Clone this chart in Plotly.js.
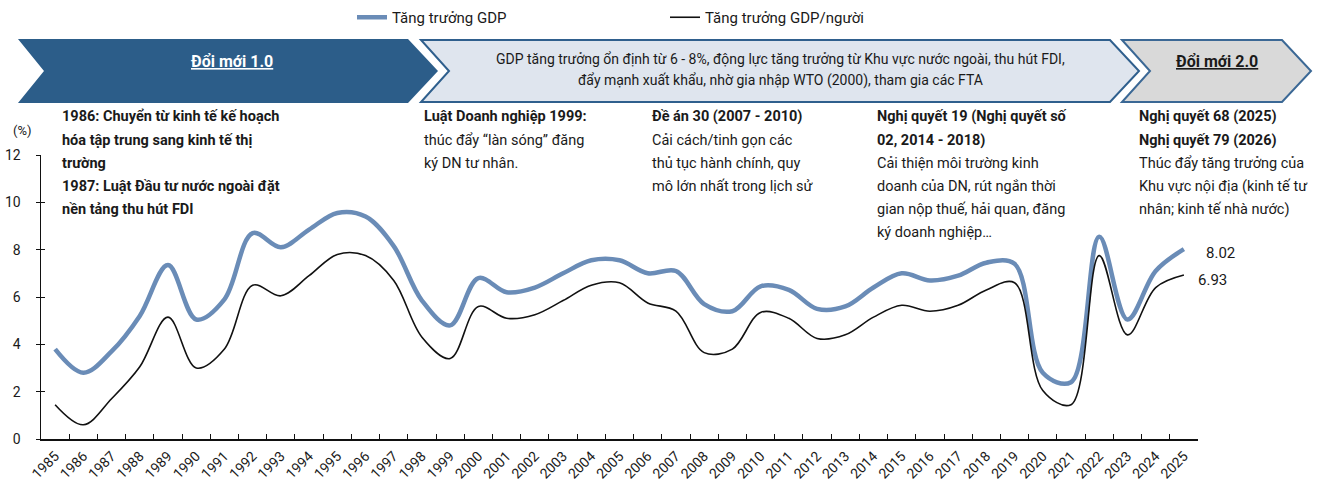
<!DOCTYPE html>
<html>
<head>
<meta charset="utf-8">
<script src="https://cdn.plot.ly/plotly-3.0.1.min.js"></script>
<style>html,body{margin:0;padding:0;background:#fff;}#chart{width:1322px;height:486px;}</style>
</head>
<body>
<div id="chart"></div>
<script>
// ---- data ----
const years = ["1985","1986","1987","1988","1989","1990","1991","1992","1993","1994","1995","1996","1997","1998","1999","2000","2001","2002","2003","2004","2005","2006","2007","2008","2009","2010","2011","2012","2013","2014","2015","2016","2017","2018","2019","2020","2021","2022","2023","2024","2025"];
const gdpGrowth = [3.8, 2.8, 3.7, 5.2, 7.35, 5.05, 5.9, 8.7, 8.1, 8.85, 9.55, 9.4, 8.15, 5.85, 4.8, 6.8, 6.2, 6.4, 7.0, 7.55, 7.55, 7.0, 7.1, 5.7, 5.4, 6.45, 6.3, 5.5, 5.6, 6.4, 7.0, 6.7, 6.9, 7.45, 7.4, 2.8, 2.4, 8.55, 5.05, 7.1, 8.02];
const gdpPerCapita = [1.45, 0.6, 1.7, 3.05, 5.15, 3.0, 3.8, 6.5, 6.05, 6.9, 7.8, 7.75, 6.7, 4.3, 3.4, 5.6, 5.1, 5.25, 5.85, 6.5, 6.6, 5.75, 5.4, 3.65, 3.8, 5.35, 5.1, 4.25, 4.4, 5.15, 5.65, 5.4, 5.65, 6.3, 6.6, 2.05, 1.45, 7.75, 4.4, 6.4, 6.93];
const seriesNames = ["Tăng trưởng GDP", "Tăng trưởng GDP/người"];
const yTicks = [0, 2, 4, 6, 8, 10, 12];

const bannerTexts = [
  "<b><u>Đổi mới 1.0</u></b>",
  "GDP tăng trưởng ổn định từ 6 - 8%, động lực tăng trưởng từ Khu vực nước ngoài, thu hút FDI,",
  "đẩy mạnh xuất khẩu, nhờ gia nhập WTO (2000), tham gia các FTA",
  "<b><u>Đổi mới 2.0</u></b>"
];
const notes = [
  {x: 60, lines: [["1986: Chuyển từ kinh tế kế hoạch",1],["hóa tập trung sang kinh tế thị",1],["trường",1],["1987: Luật Đầu tư nước ngoài đặt",1],["nền tảng thu hút FDI",1]]},
  {x: 422, lines: [["Luật Doanh nghiệp 1999:",1],["thúc đẩy “làn sóng” đăng",0],["ký DN tư nhân.",0]]},
  {x: 650, lines: [["Đề án 30 (2007 - 2010)",1],["Cải cách/tinh gọn các",0],["thủ tục hành chính, quy",0],["mô lớn nhất trong lịch sử",0]]},
  {x: 875, lines: [["Nghị quyết 19 (Nghị quyết số",1],["02, 2014 - 2018)",1],["Cải thiện môi trường kinh",0],["doanh của DN, rút ngắn thời",0],["gian nộp thuế, hải quan, đăng",0],["ký doanh nghiệp…",0]]},
  {x: 1137, lines: [["Nghị quyết 68 (2025)",1],["Nghị quyết 79 (2026)",1],["Thúc đẩy tăng trưởng của",0],["Khu vực nội địa (kinh tế tư",0],["nhân; kinh tế nhà nước)",0]]}
];

// ---- geometry helpers (pixel -> paper) ----
const L = 41, T = 155, W = 1157, H = 284;
const px = x => (x - L) / W;
const py = y => (T + H - y) / H;
function poly(pts){ return pts.map((p,i)=>(i?'L':'M')+px(p[0]).toFixed(5)+','+py(p[1]).toFixed(5)).join(' ')+' Z'; }

const FONT = 'Roboto, "Noto Sans", sans-serif';
const txt = '#1a1a1a';

const shapes = [
  {type:'path', xref:'paper', yref:'paper', path: poly([[18,39],[408,39],[438,71],[408,103],[18,103],[44,71]]), fillcolor:'#2c5d89', line:{width:0}},
  {type:'path', xref:'paper', yref:'paper', path: poly([[421,40],[1110,40],[1139,71],[1110,102],[421,102],[449,71]]), fillcolor:'#dfe5ee', line:{color:'#2f5f8d', width:2}},
  {type:'path', xref:'paper', yref:'paper', path: poly([[1122,40],[1282,40],[1311,71],[1282,102],[1122,102],[1150,71]]), fillcolor:'#d9d9d9', line:{color:'#3b6895', width:2}}
];

const annotations = [];
function addText(x, y, text, opts){
  annotations.push(Object.assign({xref:'paper', yref:'paper', x:px(x), y:py(y), text:text, showarrow:false,
    xanchor:'left', yanchor:'middle', font:{family:FONT, size:14, color:txt}}, opts||{}));
}
addText(232, 61, bannerTexts[0], {xanchor:'center', font:{family:FONT, size:16, color:'#ffffff'}});
addText(780, 59, bannerTexts[1], {xanchor:'center', font:{family:FONT, size:14, color:txt}});
addText(780, 81, bannerTexts[2], {xanchor:'center', font:{family:FONT, size:14, color:txt}});
addText(1217, 61, bannerTexts[3], {xanchor:'center', font:{family:FONT, size:16, color:txt}});
notes.forEach(n => n.lines.forEach((ln, i) => {
  addText(n.x, 117 + i*23, ln[1] ? '<b>'+ln[0]+'</b>' : ln[0], {font:{family:FONT, size:14.5, color:txt}});
}));
addText(22, 131, '(%)', {xanchor:'center', font:{family:FONT, size:13, color:txt}});
// end labels (x given as category index)
const last = years.length - 1;
annotations.push({xref:'x', yref:'y', x:last, y:gdpGrowth[last], text:gdpGrowth[last].toFixed(2), showarrow:false,
  xanchor:'left', yanchor:'middle', xshift:20, yshift:-4, font:{family:FONT, size:15, color:txt}});
annotations.push({xref:'x', yref:'y', x:last, y:gdpPerCapita[last], text:gdpPerCapita[last].toFixed(2), showarrow:false,
  xanchor:'left', yanchor:'middle', xshift:12, yshift:-5, font:{family:FONT, size:15, color:txt}});

const traces = [
  {x: years, y: gdpGrowth, name: seriesNames[0], type:'scatter', mode:'lines',
   line:{color:'#6a8cb7', width:4.5, shape:'spline', smoothing:1}, hoverinfo:'skip'},
  {x: years, y: gdpPerCapita, name: seriesNames[1], type:'scatter', mode:'lines',
   line:{color:'#111111', width:1.6, shape:'spline', smoothing:1}, hoverinfo:'skip'},
  {x: years, y: gdpGrowth, yaxis:'y2', type:'scatter', mode:'lines', showlegend:false,
   line:{width:0}, opacity:0, hoverinfo:'skip'}
];

const layout = {
  width:1322, height:486,
  margin:{l:L, r:1322-L-W, t:T, b:486-T-H, pad:0},
  paper_bgcolor:'#ffffff', plot_bgcolor:'#ffffff',
  font:{family:FONT, size:14, color:txt},
  showlegend:true,
  legend:{orientation:'h', xref:'container', yref:'container', x:352/1322, y:1-1/486, xanchor:'left', yanchor:'top',
    entrywidth:268, entrywidthmode:'pixels', font:{family:FONT, size:15, color:txt}, bgcolor:'rgba(0,0,0,0)'},
  xaxis:{type:'category', categoryorder:'array', categoryarray:years, range:[-0.5, years.length-0.5],
    showline:true, linecolor:'#111', linewidth:1.5, showgrid:false, zeroline:false,
    ticks:'inside', ticklen:5, tickcolor:'#111', tickwidth:1, tickson:'boundaries',
    tickangle:-45, tickfont:{family:FONT, size:14, color:txt}, ticklabelstandoff:2, fixedrange:true},
  yaxis:{range:[0,12], tickvals:yTicks, showline:true, linecolor:'#111', linewidth:1.5, showgrid:false, zeroline:false,
    ticks:'outside', ticklen:4, tickcolor:'#111', tickwidth:1, tickfont:{family:FONT, size:14, color:txt},
    ticklabelstandoff:12, fixedrange:true},
  yaxis2:{range:[0,12], tickvals:yTicks, overlaying:'y', side:'left', showline:false, showgrid:false, zeroline:false,
    ticks:'inside', ticklen:4, tickcolor:'#111', tickwidth:1, showticklabels:false, fixedrange:true},
  shapes: shapes,
  annotations: annotations
};

Plotly.newPlot('chart', traces, layout, {displayModeBar:false, staticPlot:true});
</script>
</body>
</html>
